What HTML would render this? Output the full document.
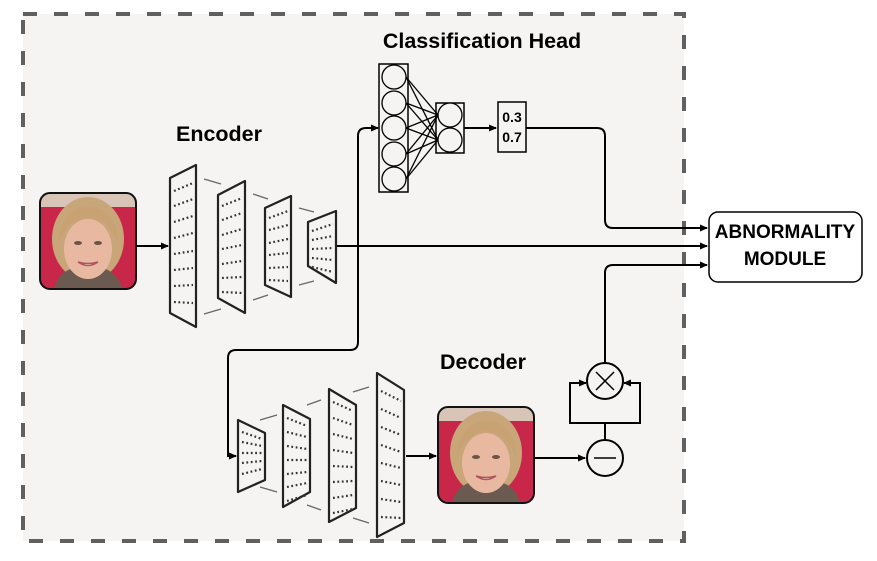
<!DOCTYPE html>
<html><head><meta charset="utf-8"><style>
html,body{margin:0;padding:0;background:#fff;}
svg{display:block;}
text{font-family:"Liberation Sans",Arial,sans-serif;font-weight:bold;fill:#000;}
</style></head><body>
<svg width="877" height="561" viewBox="0 0 877 561" xmlns="http://www.w3.org/2000/svg">
<defs>
<marker id="ar" markerWidth="8" markerHeight="8" refX="7" refY="4" orient="auto" markerUnits="userSpaceOnUse">
<path d="M0,0.5 L8,4 L0,7.5 z" fill="#000"/></marker>
<clipPath id="fc"><rect x="0" y="0" width="96" height="96" rx="10"/></clipPath>
<g id="face">
<g clip-path="url(#fc)">
<rect width="96" height="96" fill="#c8274a"/>
<rect width="96" height="14" fill="#d9c5b8"/>
<ellipse cx="48" cy="46" rx="36" ry="42" fill="#c9a57a"/>
<path d="M14,96 Q20,72 48,74 Q76,72 82,96 z" fill="#6b5a50"/>
<ellipse cx="48" cy="56" rx="24" ry="30" fill="#e8b9a0"/>
<path d="M18,50 Q22,14 50,14 Q78,16 78,52 Q70,26 48,24 Q28,26 18,50z" fill="#c8a272"/>
<ellipse cx="38" cy="50" rx="4" ry="2" fill="#6a5448"/>
<ellipse cx="58" cy="50" rx="4" ry="2" fill="#6a5448"/>
<path d="M38,69 Q48,76 58,69 Q48,72 38,69z" fill="#fff" stroke="#b0555a" stroke-width="1.5"/>
</g>
<rect x="0" y="0" width="96" height="96" rx="10" fill="none" stroke="#111" stroke-width="2"/>
</g>
</defs>
<rect x="23" y="14" width="661" height="527" fill="#f5f4f2"/>
<rect x="23" y="14" width="661" height="527" fill="none" stroke="#606060" stroke-width="4" stroke-dasharray="14,17"/>

<text x="482" y="48" font-size="21.5" text-anchor="middle">Classification Head</text>
<text x="219" y="141" font-size="21.5" text-anchor="middle">Encoder</text>
<text x="483" y="369" font-size="21.5" text-anchor="middle">Decoder</text>

<use href="#face" x="40" y="193"/>
<use href="#face" x="438" y="407"/>

<g stroke="#000" stroke-width="2" fill="none">
<line x1="136" y1="246" x2="168" y2="246" marker-end="url(#ar)"/>
<line x1="337" y1="246" x2="707" y2="246" marker-end="url(#ar)"/>
<path d="M358,246 V136 Q358,128 366,128 H378" marker-end="url(#ar)"/>
<path d="M358,246 V342 Q358,350 350,350 H236 Q228,350 228,358 V456 H236" marker-end="url(#ar)"/>
<line x1="464" y1="128" x2="496" y2="128" marker-end="url(#ar)"/>
<path d="M526,128 H597 Q605,128 605,136 V220 Q605,228 613,228 H707" marker-end="url(#ar)"/>
<path d="M605,363 V273 Q605,265 613,265 H707" marker-end="url(#ar)"/>
<line x1="406" y1="456" x2="436" y2="456" marker-end="url(#ar)"/>
<line x1="533" y1="458" x2="585" y2="458" marker-end="url(#ar)"/>
<path d="M605,440 V423 H570 V383 H586" marker-end="url(#ar)"/>
<path d="M605,423 H640 V383 H624" marker-end="url(#ar)"/>
<circle cx="605" cy="381" r="18" fill="#f5f4f2"/>
<line x1="596" y1="372" x2="614" y2="390" stroke-width="1.5"/>
<line x1="614" y1="372" x2="596" y2="390" stroke-width="1.5"/>
<circle cx="605" cy="458" r="18" fill="#f5f4f2"/>
<line x1="594" y1="458" x2="616" y2="458" stroke-width="1.5"/>
</g>

<rect x="709" y="212" width="153" height="70" rx="9" fill="#fff" stroke="#000" stroke-width="1.5"/>
<text x="785" y="238" font-size="19" text-anchor="middle">ABNORMALITY</text>
<text x="785" y="265" font-size="19" text-anchor="middle">MODULE</text>

<g stroke="#000" stroke-width="1.5" fill="#f5f4f2">
<rect x="379" y="64" width="29" height="128"/>
<rect x="436" y="103" width="28" height="50"/>
<rect x="498" y="102" width="28" height="50"/>
</g>
<g stroke="#000" stroke-width="1.3">
<line x1="406" y1="77" x2="438" y2="115"/><line x1="406" y1="77" x2="438" y2="140"/>
<line x1="406" y1="103" x2="438" y2="115"/><line x1="406" y1="103" x2="438" y2="140"/>
<line x1="406" y1="128" x2="438" y2="115"/><line x1="406" y1="128" x2="438" y2="140"/>
<line x1="406" y1="154" x2="438" y2="115"/><line x1="406" y1="154" x2="438" y2="140"/>
<line x1="406" y1="179" x2="438" y2="115"/><line x1="406" y1="179" x2="438" y2="140"/>
</g>
<g stroke="#000" stroke-width="1.3" fill="#f5f4f2">
<circle cx="394" cy="77" r="12"/><circle cx="394" cy="103" r="12"/><circle cx="394" cy="128" r="12"/><circle cx="394" cy="154" r="12"/><circle cx="394" cy="179" r="12"/>
<circle cx="450" cy="115" r="12"/><circle cx="450" cy="140" r="12"/>
</g>
<text x="512" y="122" font-size="14" text-anchor="middle">0.3</text>
<text x="512" y="142" font-size="14" text-anchor="middle">0.7</text>

<g stroke="#666" stroke-width="1.3">
<line x1="204" y1="179" x2="221" y2="184"/><line x1="204" y1="314" x2="221" y2="309"/>
<line x1="253" y1="194" x2="268" y2="199"/><line x1="253" y1="300" x2="268" y2="295"/>
<line x1="299" y1="208" x2="314" y2="212"/><line x1="299" y1="285" x2="314" y2="281"/>
<line x1="260" y1="420" x2="277" y2="415"/><line x1="260" y1="487" x2="277" y2="492"/>
<line x1="307" y1="405" x2="321" y2="400"/><line x1="307" y1="505" x2="321" y2="510"/>
<line x1="353" y1="392" x2="369" y2="387"/><line x1="353" y1="518" x2="369" y2="523"/>
</g>

<g stroke="#222" stroke-width="2.2" fill="#f5f4f2" stroke-linejoin="round">
<polygon points="170,178 196,165 196,327 170,313"/>
<polygon points="218,195 245,181 245,313 218,298"/>
<polygon points="265,208 291,196 291,297 265,285"/>
<polygon points="308,222 336,211 336,283 308,266"/>
<polygon points="238,420 265,433 265,480 238,492"/>
<polygon points="283,405 310,419 310,492 283,507"/>
<polygon points="329,389 356,405 356,508 329,522"/>
<polygon points="377,373 404,390 404,523 377,537"/>
</g>
<g stroke="#333" stroke-width="2.2" stroke-dasharray="1.8,2.6">
<line x1="174" y1="191" x2="193" y2="183"/><line x1="174" y1="206" x2="193" y2="199"/><line x1="174" y1="222" x2="193" y2="216"/><line x1="174" y1="238" x2="193" y2="233"/><line x1="174" y1="254" x2="193" y2="251"/><line x1="174" y1="270" x2="193" y2="268"/><line x1="174" y1="286" x2="193" y2="285"/><line x1="174" y1="302" x2="193" y2="303"/>
<line x1="222" y1="206" x2="242" y2="198"/><line x1="222" y1="220" x2="242" y2="213"/><line x1="222" y1="235" x2="242" y2="229"/><line x1="222" y1="249" x2="242" y2="245"/><line x1="222" y1="264" x2="242" y2="261"/><line x1="222" y1="278" x2="242" y2="277"/><line x1="222" y1="292" x2="242" y2="293"/>
<line x1="269" y1="218" x2="288" y2="211"/><line x1="269" y1="230" x2="288" y2="225"/><line x1="269" y1="243" x2="288" y2="239"/><line x1="269" y1="255" x2="288" y2="253"/><line x1="269" y1="268" x2="288" y2="267"/><line x1="269" y1="280" x2="288" y2="281"/>
<line x1="312" y1="231" x2="333" y2="224"/><line x1="312" y1="240" x2="333" y2="236"/><line x1="312" y1="249" x2="333" y2="248"/><line x1="312" y1="258" x2="333" y2="260"/><line x1="312" y1="267" x2="333" y2="272"/>
<line x1="242" y1="432" x2="262" y2="439"/><line x1="242" y1="442" x2="262" y2="446"/><line x1="242" y1="453" x2="262" y2="453"/><line x1="242" y1="463" x2="262" y2="461"/><line x1="242" y1="474" x2="262" y2="469"/>
<line x1="287" y1="418" x2="307" y2="426"/><line x1="287" y1="432" x2="307" y2="437"/><line x1="287" y1="446" x2="307" y2="449"/><line x1="287" y1="460" x2="307" y2="460"/><line x1="287" y1="474" x2="307" y2="472"/><line x1="287" y1="487" x2="307" y2="483"/><line x1="287" y1="501" x2="307" y2="495"/>
<line x1="333" y1="402" x2="353" y2="411"/><line x1="333" y1="418" x2="353" y2="425"/><line x1="333" y1="434" x2="353" y2="439"/><line x1="333" y1="450" x2="353" y2="453"/><line x1="333" y1="466" x2="353" y2="467"/><line x1="333" y1="482" x2="353" y2="481"/><line x1="333" y1="498" x2="353" y2="495"/><line x1="333" y1="513" x2="353" y2="509"/>
<line x1="381" y1="391" x2="401" y2="401"/><line x1="381" y1="409" x2="401" y2="418"/><line x1="381" y1="427" x2="401" y2="435"/><line x1="381" y1="445" x2="401" y2="452"/><line x1="381" y1="463" x2="401" y2="468"/><line x1="381" y1="481" x2="401" y2="485"/><line x1="381" y1="499" x2="401" y2="502"/><line x1="381" y1="517" x2="401" y2="518"/>
</g>
</svg>
</body></html>
